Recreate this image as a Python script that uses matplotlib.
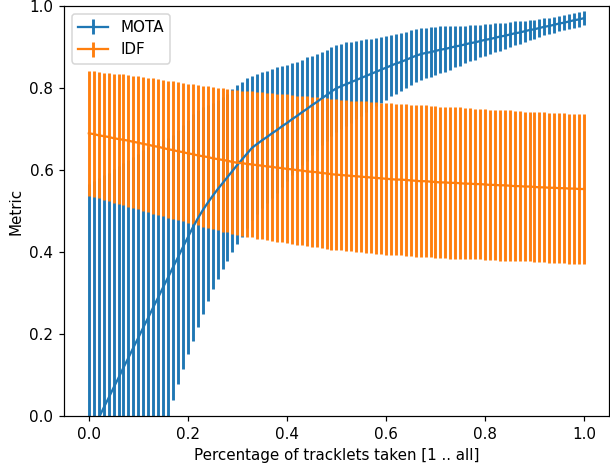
import numpy as np
import matplotlib
matplotlib.use("Agg")
import matplotlib.pyplot as plt

# fraction of tracklets taken, one sample every 1 %
frac = np.arange(101) / 100.0

mota_mean = [-0.054, -0.029, -0.005, 0.020, 0.044, 0.069, 0.093, 0.118, 0.142, 0.167,
             0.191, 0.216, 0.240, 0.265, 0.289, 0.314, 0.338, 0.363, 0.387, 0.412,
             0.436, 0.460, 0.482, 0.502, 0.520, 0.537, 0.553, 0.568, 0.583, 0.598,
             0.613, 0.627, 0.641, 0.655, 0.664, 0.673, 0.681, 0.690, 0.698, 0.707,
             0.715, 0.724, 0.732, 0.741, 0.749, 0.758, 0.766, 0.775, 0.783, 0.792,
             0.800, 0.805, 0.810, 0.815, 0.820, 0.825, 0.830, 0.835, 0.840, 0.845,
             0.850, 0.855, 0.860, 0.864, 0.869, 0.874, 0.879, 0.883, 0.886, 0.888,
             0.891, 0.894, 0.896, 0.899, 0.902, 0.904, 0.907, 0.910, 0.912, 0.915,
             0.918, 0.920, 0.923, 0.926, 0.928, 0.931, 0.934, 0.936, 0.939, 0.942,
             0.944, 0.947, 0.950, 0.952, 0.955, 0.958, 0.960, 0.963, 0.966, 0.968,
             0.971]

mota_err = [0.620, 0.602, 0.585, 0.567, 0.550, 0.533, 0.516, 0.499, 0.482, 0.465,
            0.449, 0.432, 0.416, 0.397, 0.378, 0.360, 0.340, 0.323, 0.310, 0.298,
            0.286, 0.276, 0.264, 0.252, 0.240, 0.227, 0.218, 0.210, 0.204, 0.199,
            0.194, 0.189, 0.183, 0.176, 0.171, 0.166, 0.162, 0.158, 0.154, 0.148,
            0.142, 0.137, 0.132, 0.129, 0.126, 0.120, 0.117, 0.113, 0.111, 0.108,
            0.106, 0.104, 0.102, 0.099, 0.096, 0.092, 0.089, 0.086, 0.083, 0.081,
            0.078, 0.075, 0.073, 0.071, 0.069, 0.067, 0.065, 0.064, 0.062, 0.061,
            0.059, 0.058, 0.056, 0.054, 0.051, 0.049, 0.046, 0.044, 0.042, 0.040,
            0.039, 0.037, 0.035, 0.034, 0.032, 0.031, 0.029, 0.028, 0.026, 0.025,
            0.023, 0.022, 0.021, 0.020, 0.020, 0.019, 0.019, 0.018, 0.018, 0.018,
            0.017]

idf_mean = [0.690, 0.688, 0.685, 0.683, 0.681, 0.678, 0.676, 0.674, 0.672, 0.669,
            0.667, 0.664, 0.662, 0.659, 0.657, 0.654, 0.651, 0.649, 0.646, 0.644,
            0.641, 0.639, 0.636, 0.634, 0.632, 0.629, 0.627, 0.625, 0.623, 0.620,
            0.618, 0.617, 0.615, 0.614, 0.612, 0.611, 0.609, 0.608, 0.606, 0.605,
            0.603, 0.602, 0.600, 0.599, 0.597, 0.596, 0.595, 0.593, 0.592, 0.590,
            0.589, 0.588, 0.587, 0.586, 0.585, 0.584, 0.583, 0.582, 0.581, 0.580,
            0.579, 0.578, 0.577, 0.577, 0.576, 0.575, 0.574, 0.573, 0.573, 0.572,
            0.571, 0.570, 0.570, 0.569, 0.569, 0.568, 0.567, 0.567, 0.566, 0.566,
            0.565, 0.564, 0.564, 0.563, 0.563, 0.562, 0.561, 0.561, 0.560, 0.560,
            0.559, 0.558, 0.558, 0.557, 0.557, 0.556, 0.556, 0.555, 0.555, 0.554,
            0.554]

idf_err = [0.152, 0.153, 0.154, 0.155, 0.156, 0.157, 0.159, 0.160, 0.161, 0.162,
           0.163, 0.164, 0.164, 0.165, 0.166, 0.166, 0.167, 0.168, 0.168, 0.169,
           0.170, 0.171, 0.171, 0.172, 0.173, 0.173, 0.174, 0.175, 0.175, 0.176,
           0.177, 0.177, 0.178, 0.178, 0.179, 0.179, 0.180, 0.180, 0.181, 0.181,
           0.182, 0.182, 0.182, 0.182, 0.183, 0.183, 0.183, 0.183, 0.184, 0.184,
           0.184, 0.184, 0.184, 0.184, 0.184, 0.184, 0.185, 0.185, 0.185, 0.185,
           0.185, 0.185, 0.185, 0.185, 0.185, 0.185, 0.185, 0.185, 0.185, 0.185,
           0.185, 0.185, 0.185, 0.185, 0.185, 0.185, 0.184, 0.184, 0.184, 0.184,
           0.184, 0.184, 0.184, 0.184, 0.184, 0.184, 0.183, 0.183, 0.183, 0.183,
           0.183, 0.183, 0.183, 0.183, 0.183, 0.183, 0.183, 0.183, 0.183, 0.183,
           0.183]

# the reference looks like a slightly upscaled render, so use a higher dpi
dpi = 109
fig = plt.figure(figsize=(610 / dpi, 465 / dpi), dpi=dpi)
ax = fig.add_axes([0.105, 0.1055, 0.893, 0.881])

ax.errorbar(frac, mota_mean, yerr=mota_err, elinewidth=1.9, label="MOTA")
ax.errorbar(frac, idf_mean, yerr=idf_err, elinewidth=1.9, label="IDF")

ax.set_ylim(0.0, 1.0)
ax.set_xlabel("Percentage of tracklets taken [1 .. all]")
ax.set_ylabel("Metric")
ax.legend(loc="upper left")

fig.savefig("out.png", dpi=dpi)
